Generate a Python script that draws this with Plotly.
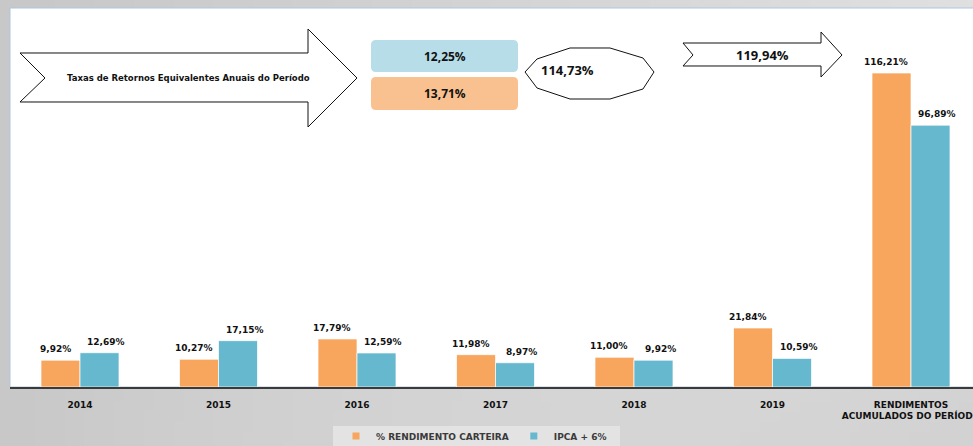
import base64
import struct
import zlib

import numpy as np
import plotly.graph_objects as go

# ---- data -------------------------------------------------------------
categories = ["2014", "2015", "2016", "2017", "2018", "2019",
              "RENDIMENTOS<br>ACUMULADOS DO PERÍODO"]
rendimento_carteira = [9.92, 10.27, 17.79, 11.98, 11.00, 21.84, 116.21]
ipca_6 = [12.69, 17.15, 12.59, 8.97, 9.92, 10.59, 96.89]
series_names = ["% RENDIMENTO CARTEIRA", "IPCA + 6%"]

taxa_anual_ipca = "12,25%"
taxa_anual_carteira = "13,71%"
callout_1 = "114,73%"
callout_2 = "119,94%"
arrow_title = "Taxas de Retornos Equivalentes Anuais do Período"

ORANGE = "#f8a65e"
BLUE = "#66b8ce"
DATA_FONT = "DejaVu Sans"
BOX_FONT = "Open Sans"

# ---- page geometry (pixels) --------------------------------------------
FIG_W, FIG_H = 973, 446
L, T, B, R = 10, 8, 387, 973
PW, PH = R - L, B - T


def px(x):
    return (x - L) / PW


def py(y):
    return (B - y) / PH


def path(points):
    return "M " + " L ".join(f"{px(x):.5f},{py(y):.5f}" for x, y in points) + " Z"


def rounded_rect(x0, y0, x1, y1, r):
    pts = [
        f"M {px(x0 + r):.5f},{py(y0):.5f}",
        f"L {px(x1 - r):.5f},{py(y0):.5f}",
        f"Q {px(x1):.5f},{py(y0):.5f} {px(x1):.5f},{py(y0 + r):.5f}",
        f"L {px(x1):.5f},{py(y1 - r):.5f}",
        f"Q {px(x1):.5f},{py(y1):.5f} {px(x1 - r):.5f},{py(y1):.5f}",
        f"L {px(x0 + r):.5f},{py(y1):.5f}",
        f"Q {px(x0):.5f},{py(y1):.5f} {px(x0):.5f},{py(y1 - r):.5f}",
        f"L {px(x0):.5f},{py(y0 + r):.5f}",
        f"Q {px(x0):.5f},{py(y0):.5f} {px(x0 + r):.5f},{py(y0):.5f}",
        "Z",
    ]
    return " ".join(pts)


# ---- grey slide background as a small stretched PNG ---------------------
def png_gray(arr):
    h, w = arr.shape
    raw = b"".join(b"\x00" + arr[i].astype(np.uint8).tobytes() for i in range(h))

    def chunk(tag, data):
        return (struct.pack(">I", len(data)) + tag + data
                + struct.pack(">I", zlib.crc32(tag + data) & 0xFFFFFFFF))

    return (b"\x89PNG\r\n\x1a\n"
            + chunk(b"IHDR", struct.pack(">IIBBBBB", w, h, 8, 0, 0, 0, 0))
            + chunk(b"IDAT", zlib.compress(raw))
            + chunk(b"IEND", b""))


gx = np.linspace(0, 1, 98)[None, :]
gy = np.linspace(0, 1, 45)[:, None]
top_row = 200 + 24 * gx
bottom_row = 200 + 40 * gx - 30 * gx ** 2
shade = np.clip(top_row * (1 - gy) + bottom_row * gy, 0, 255)
bg_uri = "data:image/png;base64," + base64.b64encode(png_gray(shade)).decode()

# ---- figure -------------------------------------------------------------
fig = go.Figure()
for name, vals, col in [(series_names[0], rendimento_carteira, ORANGE),
                        (series_names[1], ipca_6, BLUE)]:
    fig.add_trace(go.Bar(
        x=categories, y=vals, name=name, showlegend=False,
        marker=dict(color=col, line=dict(color="rgba(255,255,255,0.7)", width=1)),
        hoverinfo="skip",
    ))
    # small square legend markers
    fig.add_trace(go.Scatter(
        x=[None], y=[None], mode="markers", name=name,
        marker=dict(symbol="square", size=7, color=col),
    ))

# value labels above each bar (x given as category index)
annotations = []
for vals, dx in [(rendimento_carteira, -25), (ipca_6, 26)]:
    for i, v in enumerate(vals):
        annotations.append(dict(
            x=i, y=v, xref="x", yref="y",
            text="<b>" + f"{v:.2f}".replace(".", ",") + "%</b>",
            showarrow=False, xshift=dx, yshift=11,
            xanchor="center", yanchor="middle",
            font=dict(family=DATA_FONT, size=9, color="#111111"),
        ))

shapes = [
    # white chart area with thin blue border
    dict(type="rect", xref="paper", yref="paper", x0=0, y0=0, x1=1.01, y1=1,
         fillcolor="white", line=dict(color="#aec6e2", width=1), layer="below"),
    # legend strip
    dict(type="rect", xref="paper", yref="paper",
         x0=px(333), x1=px(620), y0=py(446), y1=py(426),
         fillcolor="#e3e3e3", line=dict(width=0), layer="below"),
    # large notched arrow
    dict(type="path", xref="paper", yref="paper",
         path=path([(20, 53), (308, 53), (308, 29), (357, 78), (308, 127),
                    (308, 102), (20, 102), (45, 78)]),
         fillcolor="white", line=dict(color="#111111", width=1)),
    # rounded rate boxes
    dict(type="path", xref="paper", yref="paper",
         path=rounded_rect(371, 40, 518, 72, 5),
         fillcolor="#b6dde8", line=dict(width=0)),
    dict(type="path", xref="paper", yref="paper",
         path=rounded_rect(371, 77, 518, 110, 5),
         fillcolor="#fac190", line=dict(width=0)),
    # polygon callout
    dict(type="path", xref="paper", yref="paper",
         path=path([(525, 72), (537, 59), (570, 48), (610, 48), (643, 58),
                    (654, 72), (643, 89), (610, 99), (570, 99), (537, 88)]),
         fillcolor="white", line=dict(color="#111111", width=1)),
    # small notched arrow
    dict(type="path", xref="paper", yref="paper",
         path=path([(683, 43), (821, 43), (821, 32), (842, 55), (821, 77),
                    (821, 66), (683, 66), (693, 55)]),
         fillcolor="white", line=dict(color="#111111", width=1)),
]


def label(xp, yp, text, family, size):
    return dict(x=px(xp), y=py(yp), xref="paper", yref="paper", showarrow=False,
                xanchor="center", yanchor="middle", text=f"<b>{text}</b>",
                font=dict(family=family, size=size, color="#111111"))


annotations += [
    label(188, 78, arrow_title, DATA_FONT, 8.5),
    label(445, 56, taxa_anual_ipca, BOX_FONT, 12),
    label(445, 94, taxa_anual_carteira, BOX_FONT, 12),
    label(567, 70, callout_1, BOX_FONT, 13),
    label(762, 55, callout_2, BOX_FONT, 13),
]

CAT_PX = 138.5
fig.update_layout(
    template="none",
    width=FIG_W, height=FIG_H,
    margin=dict(l=L, r=FIG_W - R, t=T, b=FIG_H - B, pad=0),
    paper_bgcolor="#d4d4d4",
    plot_bgcolor="rgba(0,0,0,0)",
    barmode="group", bargap=0.437, bargroupgap=0,
    showlegend=True,
    legend=dict(orientation="h", xref="container", yref="container",
                x=474 / FIG_W, xanchor="center",
                y=1 - 436 / FIG_H, yanchor="middle", bgcolor="rgba(0,0,0,0)",
                font=dict(family=DATA_FONT, size=9, color="#3a3a3a", weight="bold"),
                itemwidth=30, tracegroupgap=0),
    xaxis=dict(type="category", range=[-70 / CAT_PX, (PW - 70) / CAT_PX],
               automargin=False,
               showline=True, linecolor="#3a3a3a", linewidth=1.5,
               ticks="", showgrid=False, zeroline=False, ticklabelstandoff=8,
               tickfont=dict(family=DATA_FONT, size=9, color="#111111", weight="bold")),
    yaxis=dict(range=[0, PH / 2.702], visible=False, fixedrange=True,
               automargin=False),
    shapes=shapes,
    annotations=annotations,
    images=[dict(source=bg_uri, xref="paper", yref="paper",
                 x=px(0), y=py(0), sizex=FIG_W / PW, sizey=FIG_H / PH,
                 xanchor="left", yanchor="top", sizing="stretch", layer="below")],
)

fig.write_html("out.html")
